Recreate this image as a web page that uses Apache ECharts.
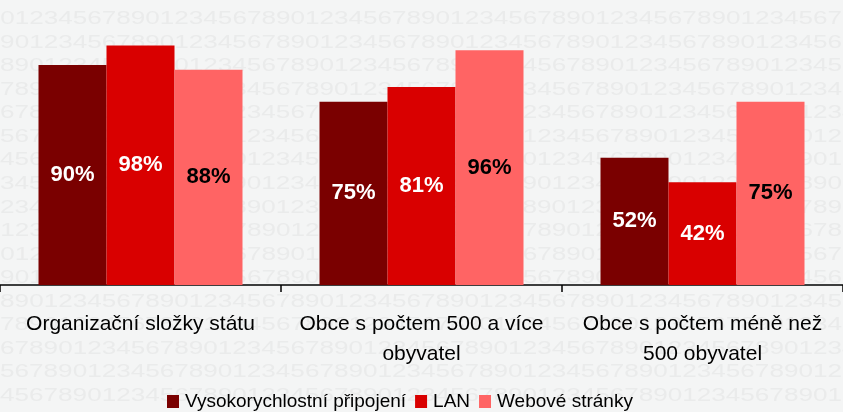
<!DOCTYPE html>
<html>
<head>
<meta charset="utf-8">
<script src="https://cdn.jsdelivr.net/npm/echarts@6/dist/echarts.min.js"></script>
<style>
html,body{margin:0;padding:0;background:#f4f5f5;}
#c{width:843px;height:412px;}
</style>
</head>
<body>
<div id="c"></div>
<script>
var categories = ['Organizační složky státu', 'Obce s počtem 500 a více\nobyvatel', 'Obce s počtem méně než\n500 obyvatel'];
var seriesNames = ['Vysokorychlostní připojení', 'LAN', 'Webové stránky'];
var highSpeed = [90, 75, 52];
var lan = [98, 81, 42];
var web = [88, 96, 75];

var colors = ['#7a0000', '#d90000', '#ff6464'];
var labelColors = ['#ffffff', '#ffffff', '#000000'];
var font = "'Liberation Sans', Arial, sans-serif";

// background watermark rows of digits
var wm = [];
var digitStep = 14.5, rowStep = 23.56;
for (var r = 0; r < 19; r++) {
  var s = '';
  for (var k = 0; k < 8; k++) s += '1234567890';
  var x0 = ((r * digitStep) % 145) - 145;
  wm.push({
    type: 'text', x: x0, y: -4.5 + r * rowStep, z: -10, silent: true,
    scaleX: 1.45,
    style: { text: s, fill: '#eaebeb', fontSize: 18, fontFamily: font, verticalAlign: 'middle', align: 'left' }
  });
}

function mk(i, data) {
  return {
    name: seriesNames[i], type: 'bar', data: data, barWidth: 68, barGap: '0%',
    itemStyle: { color: colors[i] },
    label: { show: true, position: 'inside', formatter: '{c}%', color: labelColors[i],
      fontFamily: font, fontWeight: 'bold', fontSize: 22 }
  };
}

var chart = echarts.init(document.getElementById('c'), null, { renderer: 'canvas' });
chart.setOption({
  backgroundColor: '#f4f5f5',
  animation: false,
  graphic: wm,
  grid: { left: 0, right: 0, top: 40.5, bottom: 127, containLabel: false },
  legend: {
    left: 167, top: 392, padding: 0, itemWidth: 12, itemHeight: 13, itemGap: 9,
    icon: 'rect', data: seriesNames,
    textStyle: { fontFamily: font, fontSize: 19, color: '#000', padding: [0, 0, 0, 1] }
  },
  xAxis: {
    type: 'category', data: categories,
    axisLine: { show: true, lineStyle: { color: '#000', width: 1.5 } },
    axisTick: { show: true, length: 7, lineStyle: { color: '#000', width: 1.5 } },
    axisLabel: { margin: 24, fontFamily: font, fontSize: 21, lineHeight: 30, color: '#000', interval: 0 }
  },
  yAxis: { type: 'value', min: 0, max: 100, show: false, splitLine: { show: false } },
  series: [mk(0, highSpeed), mk(1, lan), mk(2, web)]
});
</script>
</body>
</html>
